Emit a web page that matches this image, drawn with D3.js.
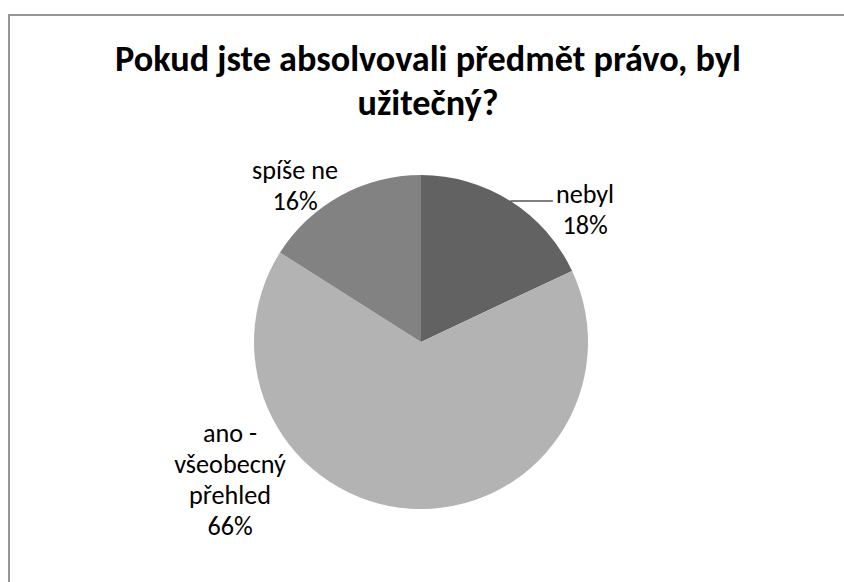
<!DOCTYPE html>
<html>
<head>
<meta charset="utf-8">
<script src="https://cdn.jsdelivr.net/npm/d3@7"></script>
<style>
  html, body { margin: 0; padding: 0; background: #fff; }
  svg { display: block; }
</style>
</head>
<body>
<script>
// Survey answers, share of respondents (%)
const categories = ["nebyl", "ano - všeobecný přehled", "spíše ne"];
const values = [18, 66, 16];
const labelLines = [["nebyl", "18%"], ["ano -", "všeobecný", "přehled", "66%"], ["spíše ne", "16%"]];
const titleLines = ["Pokud jste absolvovali předmět právo, byl", "užitečný?"];
const colors = ["#626262", "#b3b3b3", "#828282"];

const W = 844, H = 582;
const FONT = "Carlito, Calibri, Lato, 'Open Sans', sans-serif";

const svg = d3.select("body").append("svg")
  .attr("width", W).attr("height", H);

svg.append("rect").attr("width", W).attr("height", H).attr("fill", "#fff");

// chart area frame (runs off the right and bottom edges)
svg.append("rect")
  .attr("x", 9).attr("y", 15)
  .attr("width", W + 20).attr("height", H + 20)
  .attr("fill", "none")
  .attr("stroke", "#8a8a8a")
  .attr("stroke-width", 1.8);

// size a font so that a sample string spans a given width
function fitSize(text, weight, targetWidth) {
  const t = svg.append("text")
    .attr("font-family", FONT).attr("font-weight", weight)
    .attr("font-size", 100).text(text);
  const w = t.node().getComputedTextLength();
  t.remove();
  return 100 * targetWidth / w;
}

// centred lines of text
function textBlock(parent, lines, x, y0, gap, size, weight) {
  return parent.selectAll(null).data(lines).join("text")
    .attr("x", x)
    .attr("y", (d, i) => y0 + i * gap)
    .attr("text-anchor", "middle")
    .attr("font-family", FONT)
    .attr("font-weight", weight)
    .attr("font-size", size)
    .attr("fill", "#000")
    .text(d => d);
}

// title
const titleSize = fitSize(titleLines[0], "bold", 626);
textBlock(svg.append("g"), titleLines, 428, 71, 44, titleSize, "bold");

// pie
const cx = 421, cy = 342, r = 167;
const pie = d3.pie().sort(null).value(d => d)(values);
const arc = d3.arc().innerRadius(0).outerRadius(r);

const g = svg.append("g").attr("transform", `translate(${cx},${cy})`);
g.selectAll("path").data(pie).join("path")
  .attr("d", arc)
  .attr("fill", (d, i) => colors[i]);

// data labels: block centre x and first baseline relative to the pie centre
const labelSize = fitSize("spíše ne", "normal", 86);
const lineGap = 31;
const labelPos = [
  { dx: 164, dy: -139 },
  { dx: -191, dy: 100 },
  { dx: -126, dy: -163 }
];

const labels = g.selectAll("g.lbl").data(pie).join("g").attr("class", "lbl");
labels.each(function (d, i) {
  const p = labelPos[i];
  textBlock(d3.select(this), labelLines[i], p.dx, p.dy, lineGap, labelSize, "normal");
});

// leader line for the first slice: from its mid-angle on the rim to the label
{
  const d = pie[0];
  const a = (d.startAngle + d.endAngle) / 2;
  const x0 = Math.sin(a) * r, y0 = -Math.cos(a) * r;
  const box = labels.filter((e, i) => i === 0).select("text").node().getBBox();
  g.append("line")
    .attr("x1", x0).attr("y1", y0)
    .attr("x2", box.x - 3).attr("y2", y0)
    .attr("stroke", "#000")
    .attr("stroke-width", 1.2);
}
</script>
</body>
</html>
